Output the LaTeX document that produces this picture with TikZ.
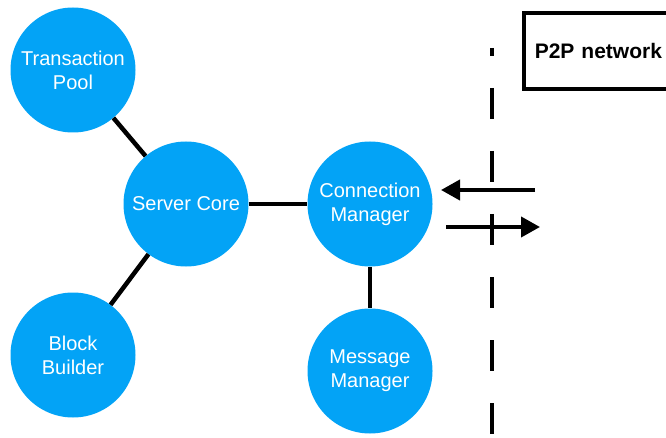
\documentclass[tikz,border=0pt]{standalone}
\usepackage{fontspec}
\setmainfont{Liberation Sans}
\definecolor{NodeBlue}{HTML}{03A3F6}
\usetikzlibrary{arrows.meta,positioning}

\tikzset{
  module/.style={circle,fill=NodeBlue,text=white,minimum size=125pt,inner sep=0pt,
    align=center,font=\fontsize{20}{24}\selectfont},
  link/.style={line width=4.5pt},
  flow/.style={line width=4pt,-{Triangle[length=19pt,width=20pt]}},
  wall/.style={line width=4pt,dash pattern=on 31pt off 32pt,dash phase=23pt}
}

\begin{document}
\begin{tikzpicture}[x=1pt,y=-1pt]
  \useasboundingbox (0,0) rectangle (666,438);

  % modules
  \node[module] (pool) at (73,70) {Transaction\\Pool};
  \node[module] (core) at (186,204) {Server Core};
  \node[module] (conn) at (370,204) {Connection\\Manager};
  \node[module] (msg) at (370,371) {Message\\Manager};
  \node[module] (builder) at (73,355) {Block\\Builder};

  \draw[link] (pool) -- (core);
  \draw[link] (core) -- (conn);
  \draw[link] (conn) -- (msg);
  \draw[link] (core) -- (builder);

  % network boundary
  \coordinate (wall top) at (492,48);
  \coordinate (wall bottom) at (492,440);
  \draw[wall] (wall top) -- (wall bottom);

  \node[draw,line width=3.5pt,anchor=west,minimum height=76pt,text width=150pt,
    inner xsep=11pt,align=left,font=\fontsize{21}{24}\bfseries] (p2p) at (522,51) {P2P network};

  % traffic in and out
  \coordinate (in start) at (535,190);
  \coordinate (in end) at (441,190);
  \coordinate (out start) at (446,227);
  \coordinate (out end) at (540,227);
  \draw[flow] (in start) -- (in end);
  \draw[flow] (out start) -- (out end);
\end{tikzpicture}
\end{document}
